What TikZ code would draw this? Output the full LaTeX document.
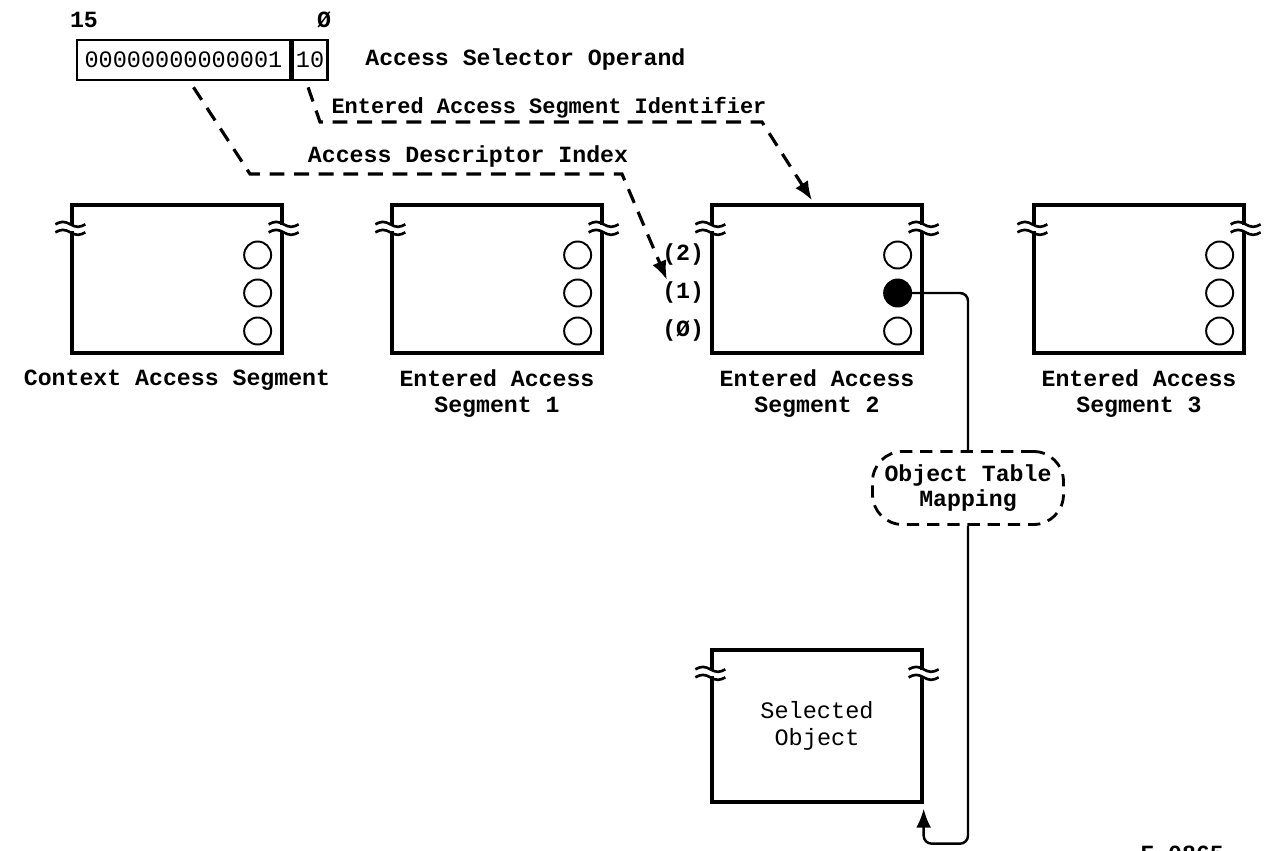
\documentclass[tikz,border=0pt]{standalone}
\usepackage{fontspec}
\setmonofont{Liberation Mono}
\usetikzlibrary{positioning,calc,arrows.meta}

\tikzset{
  lbl/.style={font=\ttfamily\bfseries\fontsize{13.2}{14.5}\selectfont, inner sep=0pt, align=center},
  bits/.style={font=\ttfamily\fontsize{13.4}{15}\selectfont, inner sep=0pt, align=center},
  opbox/.style={draw, line width=1.5pt, minimum height=0.8cm, inner sep=0pt},
  segbox/.style={draw, line width=1.9pt, minimum width=4.2cm, minimum height=2.96cm, inner sep=0pt},
  slot/.style={circle, draw, line width=1.1pt, minimum size=0.54cm, inner sep=0pt},
  tip/.style={-{Latex[length=0.38cm,width=0.3cm]}},
  link/.style={line width=1.8pt, dash pattern=on 8.5pt off 5.5pt, tip},
  wire/.style={line width=1.4pt, rounded corners=0.16cm},
}

% break mark on a box edge, 25px below the top corner
\newcommand{\breakmark}[1]{%
  \begin{scope}[shift={(#1)}, yshift=-0.5cm]
    \fill[white] (-5,-3) rectangle (5,3);
    \draw[line width=1.5pt] (-15,-4) sin (-7.5,-6.5) cos (0,-4) sin (7.5,-1.5) cos (15,-4);
    \draw[line width=1.5pt] (-15,4) sin (-7.5,1.5) cos (0,4) sin (7.5,6.5) cos (15,4);
  \end{scope}}

\begin{document}
\begin{tikzpicture}[x=0.02cm, y=-0.02cm]
  \useasboundingbox (0,0) rectangle (1265,851);

  % operand
  \node[lbl] (hi) at (84,20) {15};
  \node[lbl] (lo) at (324,20) {Ø};
  \node[opbox, bits, minimum width=4.26cm] (bits) at (183.5,60) {00000000000001};
  \node[opbox, bits, minimum width=0.7cm, right=0pt of bits] (idx) {10};
  \node[lbl, anchor=west] (opname) at (365,60) {Access Selector Operand};

  % access segments
  \node[segbox] (cas) at (177,279) {};
  \node[segbox] (eas1) at (497,279) {};
  \node[segbox] (eas2) at (817,279) {};
  \node[segbox] (eas3) at (1139,279) {};
  \node[segbox, minimum height=3.04cm] (obj) at (817,726) {};
  \node[bits, align=center] (objname) at (obj) {Selected\\Object};

  \foreach \b in {cas,eas1,eas2,eas3,obj} {
    \breakmark{\b.north west}
    \breakmark{\b.north east}
  }
  \foreach \b in {cas,eas1,eas2,eas3}
    \foreach \k/\dy in {2/-24,1/14,0/52}
      \node[slot] (\b-\k) at ($(\b.east)+(-26,\dy)$) {};
  \fill (eas2-1) circle (0.28cm);

  \node[lbl, below=0.3cm of cas] (cas-t) {Context Access Segment};
  \node[lbl, below=0.3cm of eas1] (eas1-t) {Entered Access\\Segment 1};
  \node[lbl, below=0.3cm of eas2] (eas2-t) {Entered Access\\Segment 2};
  \node[lbl, below=0.3cm of eas3] (eas3-t) {Entered Access\\Segment 3};

  \node[lbl, anchor=east, xshift=-0.12cm] (p2) at (eas2.west |- eas2-2) {(2)};
  \node[lbl, anchor=east, xshift=-0.12cm] (p1) at (eas2.west |- eas2-1) {(1)};
  \node[lbl, anchor=east, xshift=-0.12cm] (p0) at (eas2.west |- eas2-0) {(Ø)};

  % selector fields
  \node[lbl, font=\ttfamily\bfseries\fontsize{12.5}{14}\selectfont] (easid) at (549,108) {Entered Access Segment Identifier};
  \node[lbl] (adi) at (468,157) {Access Descriptor Index};
  \coordinate (a1) at (250,174);
  \coordinate (a2) at (622,174);
  \coordinate (b1) at (320,122);
  \coordinate (b2) at (762,122);
  \draw[link] ($(bits.south)+(10,6)$) -- (a1) -- (a2) -- ($(p1.north west)+(5,-2)$);
  \draw[link] ($(idx.south)+(-2,6)$) -- (b1) -- (b2) -- ([xshift=-0.1cm,yshift=0.06cm]eas2.north);

  % object table mapping
  \node[draw, line width=1.6pt, dash pattern=on 7pt off 4.5pt, rounded corners=0.6cm,
        fill=white, minimum width=3.82cm, minimum height=1.46cm, lbl] (map) at (968,488)
        {Object Table\\Mapping};
  \draw[wire] (eas2-1.east) -| (map.north);
  \draw[wire, tip] (map.south) |- ($(obj.south east)+(0,40)$)
        -- ([yshift=-0.1cm]obj.south east);

  \node[lbl, anchor=north west] (fig) at (1140,846) {F-0865};
\end{tikzpicture}
\end{document}
